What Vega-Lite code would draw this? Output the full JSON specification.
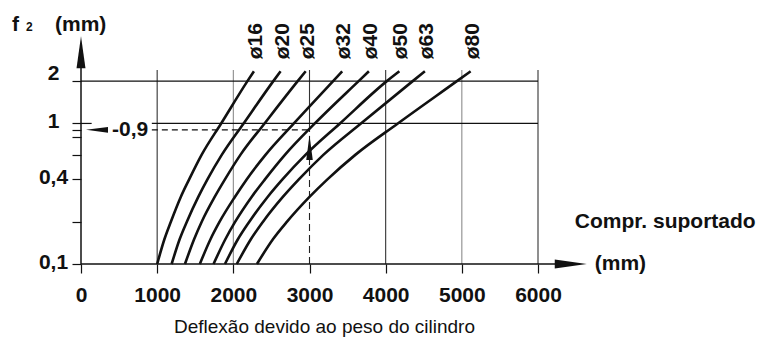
{
  "$schema": "https://vega.github.io/schema/vega-lite/v6.json",
  "width": 457,
  "height": 194,
  "autosize": {"type": "none"},
  "padding": {"left": 81, "top": 70, "right": 231, "bottom": 73},
  "background": "white",
  "config": {"view": {"stroke": null}, "font": "Liberation Sans"},
  "datasets": {
    "curves": [
      {"d": "ø16", "L": 1000, "f": 0.1}, {"d": "ø16", "L": 1095, "f": 0.15}, {"d": "ø16", "L": 1180, "f": 0.2}, {"d": "ø16", "L": 1310, "f": 0.3}, {"d": "ø16", "L": 1420, "f": 0.4}, {"d": "ø16", "L": 1585, "f": 0.6}, {"d": "ø16", "L": 1840, "f": 1}, {"d": "ø16", "L": 2185, "f": 2}, {"d": "ø16", "L": 2270, "f": 2.35},
      {"d": "ø20", "L": 1190, "f": 0.1}, {"d": "ø20", "L": 1295, "f": 0.15}, {"d": "ø20", "L": 1390, "f": 0.2}, {"d": "ø20", "L": 1540, "f": 0.3}, {"d": "ø20", "L": 1660, "f": 0.4}, {"d": "ø20", "L": 1850, "f": 0.6}, {"d": "ø20", "L": 2135, "f": 1}, {"d": "ø20", "L": 2525, "f": 2}, {"d": "ø20", "L": 2620, "f": 2.35},
      {"d": "ø25", "L": 1365, "f": 0.1}, {"d": "ø25", "L": 1485, "f": 0.15}, {"d": "ø25", "L": 1585, "f": 0.2}, {"d": "ø25", "L": 1755, "f": 0.3}, {"d": "ø25", "L": 1890, "f": 0.4}, {"d": "ø25", "L": 2095, "f": 0.6}, {"d": "ø25", "L": 2410, "f": 1}, {"d": "ø25", "L": 2845, "f": 2}, {"d": "ø25", "L": 2950, "f": 2.35},
      {"d": "ø32", "L": 1560, "f": 0.1}, {"d": "ø32", "L": 1700, "f": 0.15}, {"d": "ø32", "L": 1820, "f": 0.2}, {"d": "ø32", "L": 2020, "f": 0.3}, {"d": "ø32", "L": 2175, "f": 0.4}, {"d": "ø32", "L": 2425, "f": 0.6}, {"d": "ø32", "L": 2795, "f": 1}, {"d": "ø32", "L": 3310, "f": 2}, {"d": "ø32", "L": 3430, "f": 2.35},
      {"d": "ø40", "L": 1740, "f": 0.1}, {"d": "ø40", "L": 1895, "f": 0.15}, {"d": "ø40", "L": 2025, "f": 0.2}, {"d": "ø40", "L": 2240, "f": 0.3}, {"d": "ø40", "L": 2415, "f": 0.4}, {"d": "ø40", "L": 2680, "f": 0.6}, {"d": "ø40", "L": 3070, "f": 1}, {"d": "ø40", "L": 3645, "f": 2}, {"d": "ø40", "L": 3780, "f": 2.35},
      {"d": "ø50", "L": 1890, "f": 0.1}, {"d": "ø50", "L": 2060, "f": 0.15}, {"d": "ø50", "L": 2210, "f": 0.2}, {"d": "ø50", "L": 2450, "f": 0.3}, {"d": "ø50", "L": 2645, "f": 0.4}, {"d": "ø50", "L": 2950, "f": 0.6}, {"d": "ø50", "L": 3400, "f": 1}, {"d": "ø50", "L": 4015, "f": 2}, {"d": "ø50", "L": 4180, "f": 2.35},
      {"d": "ø63", "L": 2045, "f": 0.1}, {"d": "ø63", "L": 2230, "f": 0.15}, {"d": "ø63", "L": 2390, "f": 0.2}, {"d": "ø63", "L": 2650, "f": 0.3}, {"d": "ø63", "L": 2860, "f": 0.4}, {"d": "ø63", "L": 3185, "f": 0.6}, {"d": "ø63", "L": 3675, "f": 1}, {"d": "ø63", "L": 4355, "f": 2}, {"d": "ø63", "L": 4515, "f": 2.35},
      {"d": "ø80", "L": 2310, "f": 0.1}, {"d": "ø80", "L": 2520, "f": 0.15}, {"d": "ø80", "L": 2705, "f": 0.2}, {"d": "ø80", "L": 3000, "f": 0.3}, {"d": "ø80", "L": 3235, "f": 0.4}, {"d": "ø80", "L": 3605, "f": 0.6}, {"d": "ø80", "L": 4160, "f": 1}, {"d": "ø80", "L": 4935, "f": 2}, {"d": "ø80", "L": 5115, "f": 2.35}
    ]
  },
  "layer": [
    {
      "data": {"values": [{"L": 1000}, {"L": 2000}, {"L": 4000}, {"L": 5000}, {"L": 6000}]},
      "mark": {"type": "rule", "strokeWidth": 1.1},
      "encoding": {
        "x": {"field": "L", "type": "quantitative"},
        "y": {"datum": 0.1},
        "y2": {"datum": 2.4},
        "color": {"condition": {"test": "datum.L == 2000 || datum.L == 5000", "value": "#8c8c8c"}, "value": "#333333"}
      }
    },
    {
      "data": {"values": [{}]},
      "mark": {"type": "rule", "strokeWidth": 1.1, "color": "#333333"},
      "encoding": {"x": {"datum": 3000}, "y": {"datum": 0.9}, "y2": {"datum": 2.4}}
    },
    {
      "data": {"values": [{}]},
      "mark": {"type": "rule", "strokeWidth": 1.1, "color": "#222222", "strokeDash": [7, 4]},
      "encoding": {"x": {"datum": 3000}, "y": {"datum": 0.1}, "y2": {"datum": 0.9}}
    },
    {
      "data": {"values": [{}]},
      "mark": {"type": "rule", "strokeWidth": 1.3, "color": "#111111"},
      "encoding": {"y": {"datum": 2}, "x": {"datum": 0}, "x2": {"datum": 6000}}
    },
    {
      "data": {"values": [{}]},
      "mark": {"type": "rule", "strokeWidth": 1.3, "color": "#111111"},
      "encoding": {"y": {"datum": 1}, "x": {"datum": 930}, "x2": {"datum": 6000}}
    },
    {
      "data": {"values": [{}]},
      "mark": {"type": "rule", "strokeWidth": 1.2, "color": "#111111"},
      "encoding": {"y": {"datum": 1}, "x": {"datum": 0}, "x2": {"datum": 140}}
    },
    {
      "data": {"values": [{}]},
      "mark": {"type": "rule", "strokeWidth": 1.2, "color": "#111111", "strokeDash": [6, 4]},
      "encoding": {"y": {"datum": 0.9}, "x": {"datum": 930}, "x2": {"datum": 3000}}
    },
    {
      "data": {"values": [{}]},
      "mark": {"type": "rule", "strokeWidth": 1.5, "color": "#111111"},
      "encoding": {"y": {"datum": 0.1}, "x": {"datum": 0}, "x2": {"datum": 6230}}
    },
    {
      "data": {"values": [{}]},
      "mark": {"type": "rule", "strokeWidth": 1.5, "color": "#111111"},
      "encoding": {"x": {"datum": 0}, "y": {"datum": 0.1}, "y2": {"datum": 2.6}}
    },
    {
      "data": {"values": [{}]},
      "mark": {"type": "point", "filled": true, "color": "#111111", "opacity": 1, "size": 1024, "shape": "M1,0L-1,-0.28L-1,0.28Z"},
      "encoding": {"x": {"datum": 6430}, "y": {"datum": 0.1}}
    },
    {
      "data": {"values": [{}]},
      "mark": {"type": "point", "filled": true, "color": "#111111", "opacity": 1, "size": 1024, "shape": "M0,-1L-0.28,1L0.28,1Z"},
      "encoding": {"x": {"datum": 0}, "y": {"datum": 3.21}}
    },
    {
      "data": {"values": [{}]},
      "mark": {"type": "point", "filled": true, "color": "#111111", "opacity": 1, "size": 484, "shape": "M-1,0L1,-0.27L1,0.27Z"},
      "encoding": {"x": {"datum": 210}, "y": {"datum": 0.9}}
    },
    {
      "data": {"values": [{}]},
      "mark": {"type": "point", "filled": true, "color": "#111111", "opacity": 1, "size": 625, "shape": "M0,-1L-0.26,1L0.26,1Z"},
      "encoding": {"x": {"datum": 3000}, "y": {"datum": 0.673}}
    },
    {
      "data": {"name": "curves"},
      "mark": {"type": "line", "color": "#111111", "strokeWidth": 2.6, "interpolate": "monotone"},
      "encoding": {
        "x": {
          "field": "L",
          "type": "quantitative",
          "scale": {"domain": [0, 6000], "nice": false, "zero": false},
          "axis": {
            "values": [0, 1000, 2000, 3000, 4000, 5000, 6000],
            "format": "d",
            "domain": false,
            "grid": false,
            "tickSize": 9,
            "tickColor": "#111111",
            "tickWidth": 1.2,
            "labelFont": "Liberation Sans",
            "labelFontSize": 21,
            "labelFontWeight": "bold",
            "labelColor": "#111111",
            "labelPadding": 11,
            "labelFlush": false,
            "labelOverlap": false,
            "title": "Deflexão devido ao peso do cilindro",
            "titleFont": "Liberation Sans",
            "titleFontSize": 19,
            "titleFontWeight": "normal",
            "titleColor": "#111111",
            "titleX": 243,
            "titleY": 62,
            "titleBaseline": "middle"
          }
        },
        "y": {
          "field": "f",
          "type": "quantitative",
          "scale": {"type": "log", "domain": [0.1, 2.4], "nice": false},
          "axis": {
            "values": [0.1, 0.2, 0.4, 0.6, 0.8, 0.9, 1, 2],
            "labelExpr": "datum.value == 0.1 ? '0,1' : datum.value == 0.4 ? '0,4' : datum.value == 1 ? '1' : datum.value == 2 ? '2' : ''",
            "domain": false,
            "grid": false,
            "tickSize": 9,
            "tickColor": "#111111",
            "tickWidth": 1.2,
            "labelFont": "Liberation Sans",
            "labelFontSize": 21,
            "labelFontWeight": "bold",
            "labelColor": "#111111",
            "labelAlign": "center",
            "labelBaseline": "middle",
            "labelPadding": 19,
            "labelOffset": {"condition": {"test": "datum.value == 2", "value": -8}, "value": -2},
            "labelOverlap": false,
            "labelFlush": false,
            "title": null
          }
        },
        "detail": {"field": "d"}
      }
    },
    {
      "data": {"name": "curves"},
      "transform": [{"filter": "datum.f == 2.35"}],
      "mark": {"type": "text", "angle": 270, "align": "left", "baseline": "middle", "dx": 12, "dy": 2, "font": "Liberation Sans", "fontSize": 21, "fontWeight": "bold", "color": "#111111"},
      "encoding": {"x": {"field": "L", "type": "quantitative"}, "y": {"field": "f", "type": "quantitative"}, "text": {"field": "d"}}
    },
    {
      "data": {"values": [{}]},
      "mark": {"type": "text", "align": "left", "baseline": "middle", "dx": 31, "font": "Liberation Sans", "fontSize": 21, "fontWeight": "bold", "color": "#111111"},
      "encoding": {"x": {"datum": 0}, "y": {"datum": 0.9}, "text": {"value": "-0,9"}}
    },
    {
      "data": {"values": [{}]},
      "mark": {"type": "text", "align": "left", "baseline": "alphabetic", "font": "Liberation Sans", "fontSize": 21, "fontWeight": "bold", "color": "#111111"},
      "encoding": {"x": {"datum": 6483}, "y": {"datum": 0.18}, "text": {"value": "Compr. suportado"}}
    },
    {
      "data": {"values": [{}]},
      "mark": {"type": "text", "align": "left", "baseline": "alphabetic", "font": "Liberation Sans", "fontSize": 21, "fontWeight": "bold", "color": "#111111"},
      "encoding": {"x": {"datum": 6745}, "y": {"datum": 0.0907}, "text": {"value": "(mm)"}}
    },
    {
      "data": {"values": [{}]},
      "mark": {"type": "text", "align": "left", "baseline": "alphabetic", "font": "Liberation Sans", "fontSize": 21, "fontWeight": "bold", "color": "#111111"},
      "encoding": {"x": {"datum": -906}, "y": {"datum": 4.53}, "text": {"value": "f"}}
    },
    {
      "data": {"values": [{}]},
      "mark": {"type": "text", "align": "left", "baseline": "alphabetic", "font": "Liberation Sans", "fontSize": 12, "fontWeight": "bold", "color": "#111111"},
      "encoding": {"x": {"datum": -722}, "y": {"datum": 4.53}, "text": {"value": "2"}}
    },
    {
      "data": {"values": [{}]},
      "mark": {"type": "text", "align": "left", "baseline": "alphabetic", "font": "Liberation Sans", "fontSize": 21, "fontWeight": "bold", "color": "#111111"},
      "encoding": {"x": {"datum": -341}, "y": {"datum": 4.53}, "text": {"value": "(mm)"}}
    }
  ]
}
